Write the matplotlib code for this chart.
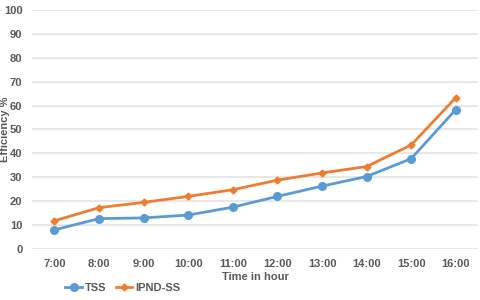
import matplotlib.pyplot as plt

# -----------------------------
# DATA
# -----------------------------
hours = ["7:00", "8:00", "9:00", "10:00", "11:00", "12:00", "13:00", "14:00", "15:00", "16:00"]
tss = [8.0, 12.7, 13.0, 14.2, 17.5, 22.0, 26.3, 30.3, 37.8, 58.3]
ipnd_ss = [11.8, 17.3, 19.5, 22.0, 24.8, 28.8, 31.8, 34.5, 43.5, 63.3]

text_color = "#595959"
plt.rcParams["font.family"] = ["Liberation Sans", "DejaVu Sans"]

# -----------------------------
# PLOT
# -----------------------------
fig = plt.figure(figsize=(4.8, 3.0), dpi=100)
ax = fig.add_axes([0.067, 0.17, 0.929, 0.797])

x = range(len(hours))
ax.plot(x, tss, color="#5b9bd5", linewidth=2, marker="o", markersize=5.5, label="TSS", zorder=3)
ax.plot(x, ipnd_ss, color="#ed7d31", linewidth=2, marker="D", markersize=3.5, label="IPND-SS", zorder=3)

ax.set_xlim(-0.5, len(hours) - 0.5)
ax.set_ylim(0, 100)
ax.set_yticks(range(0, 101, 10))
ax.set_xticks(list(x))
ax.set_xticklabels(hours)

ax.grid(axis="y", color="#e3e3e3", linewidth=1.2)
ax.set_axisbelow(True)
for s in ax.spines.values():
    s.set_visible(False)
ax.tick_params(length=0, labelsize=8, colors=text_color, pad=7)
for lbl in ax.get_xticklabels() + ax.get_yticklabels():
    lbl.set_fontweight("bold")

ax.set_xlabel("Time in hour", fontsize=8, fontweight="bold", color=text_color, labelpad=2)
ax.set_ylabel("Efficiency %", fontsize=8, fontweight="bold", color=text_color)
ax.yaxis.set_label_coords(-0.05, 0.5)

leg = fig.legend(loc="lower left", bbox_to_anchor=(0.115, -0.01), ncol=2, frameon=False,
                 fontsize=8, handlelength=1.5, columnspacing=0.8, handletextpad=0.3)
for t in leg.get_texts():
    t.set_color(text_color)
    t.set_fontweight("bold")

plt.savefig("out.png", dpi=100)
